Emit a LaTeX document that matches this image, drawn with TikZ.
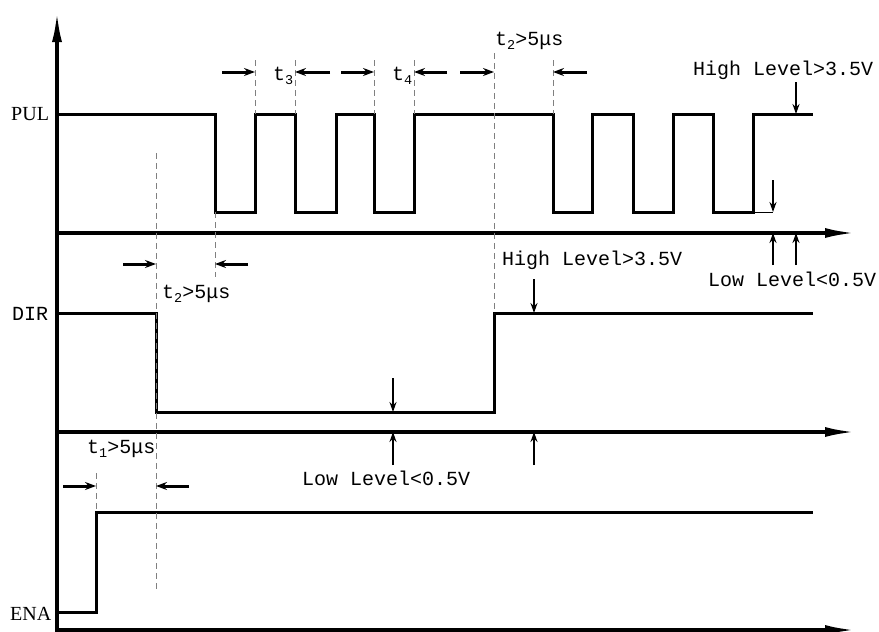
\documentclass[tikz,border=0pt]{standalone}
\usepackage{fontspec}
\setmainfont{Liberation Serif}
\setmonofont{Liberation Mono}
\usetikzlibrary{arrows.meta}
\newcommand\mysub[1]{\raisebox{-0.45ex}{\fontsize{13.5}{13.5}\selectfont #1}}
\begin{document}
\begin{tikzpicture}[x=1pt,y=-1pt,
  sig/.style={line width=3pt, line join=miter},
  axis/.style={line width=3.2pt, -{Latex[length=30pt,width=10pt]}},
  guide/.style={gray, line width=1pt, dash pattern=on 6pt off 4pt},
  dim/.style={line width=3pt, -{Stealth[length=11pt,width=8pt]}},
  lvl/.style={line width=2.8pt, -{Stealth[length=10pt,width=7pt]}},
  lbl/.style={font=\ttfamily\fontsize{20}{20}\selectfont, inner sep=0pt, anchor=base west},
  sname/.style={font=\fontsize{20}{20}\selectfont, inner sep=0pt, anchor=base west}]
\useasboundingbox (0,0) rectangle (879,632);

% axes
\coordinate (v0) at (57,632); \coordinate (v1) at (57,12);
\draw[axis] (v0) -- (v1);
\coordinate (pa0) at (57,233); \coordinate (pa1) at (855,233);
\coordinate (da0) at (57,432); \coordinate (da1) at (855,432);
\coordinate (ea0) at (57,630); \coordinate (ea1) at (855,630);
\draw[axis] (pa0) -- (pa1);
\draw[axis] (da0) -- (da1);
\draw[axis] (ea0) -- (ea1);

% signal names
\node[sname] (pul) at (11,120) {PUL};
\node[lbl] (dir) at (12,320) {DIR};
\node[sname] (ena) at (10,620) {ENA};

% waveforms
\draw[sig] (57,114) -- (215,114) -- (215,212) -- (255,212) -- (255,114) -- (295,114)
  -- (295,212) -- (336,212) -- (336,114) -- (374,114) -- (374,212) -- (414,212)
  -- (414,114) -- (553,114) -- (553,212) -- (592,212) -- (592,114) -- (633,114)
  -- (633,212) -- (673,212) -- (673,114) -- (713,114) -- (713,212) -- (753,212)
  -- (753,114) -- (813,114);
\draw[line width=1pt] (753,212) -- (773,212);
\draw[sig] (57,313) -- (156,313) -- (156,412) -- (494,412) -- (494,313) -- (813,313);
\draw[sig] (57,612) -- (96,612) -- (96,512) -- (813,512);

% guides
\draw[guide] (156,153) -- (156,592);
\draw[guide] (215,212) -- (215,277);
\draw[guide] (255,60) -- (255,114);
\draw[guide] (295,60) -- (295,114);
\draw[guide] (374,60) -- (374,114);
\draw[guide] (414,60) -- (414,114);
\draw[guide] (494,53) -- (494,313);
\draw[guide] (553,60) -- (553,114);
\draw[guide] (96,473) -- (96,512);

% dimension arrows
\draw[dim] (222,72) -- (255,72);
\draw[dim] (330,72) -- (295,72);
\draw[dim] (341,72) -- (374,72);
\draw[dim] (447,72) -- (414,72);
\draw[dim] (460,72) -- (494,72);
\draw[dim] (587,72) -- (553,72);
\draw[dim] (123,264) -- (156,264);
\draw[dim] (248,264) -- (215,264);
\draw[dim] (63,486) -- (96,486);
\draw[dim] (189,486) -- (156,486);

% level arrows
\draw[lvl] (796,82) -- (796,114);
\draw[lvl] (773,180) -- (773,212);
\draw[lvl] (773,265) -- (773,233);
\draw[lvl] (796,265) -- (796,233);
\draw[lvl] (393,378) -- (393,412);
\draw[lvl] (393,465) -- (393,432);
\draw[lvl] (534,279) -- (534,313);
\draw[lvl] (534,465) -- (534,432);

% labels
\node[lbl] (h1) at (693,75) {High Level>3.5V};
\node[lbl] (l1) at (708,286) {Low Level<0.5V};
\node[lbl] (h2) at (502,265) {High Level>3.5V};
\node[lbl] (l2) at (302,485) {Low Level<0.5V};
\node[lbl] (t3) at (273,80) {t\mysub{3}};
\node[lbl] (t4) at (392,80) {t\mysub{4}};
\node[lbl] (t2a) at (495,45) {t\mysub{2}>5μs};
\node[lbl] (t2b) at (162,298) {t\mysub{2}>5μs};
\node[lbl] (t1) at (87,453) {t\mysub{1}>5μs};
\end{tikzpicture}
\end{document}
